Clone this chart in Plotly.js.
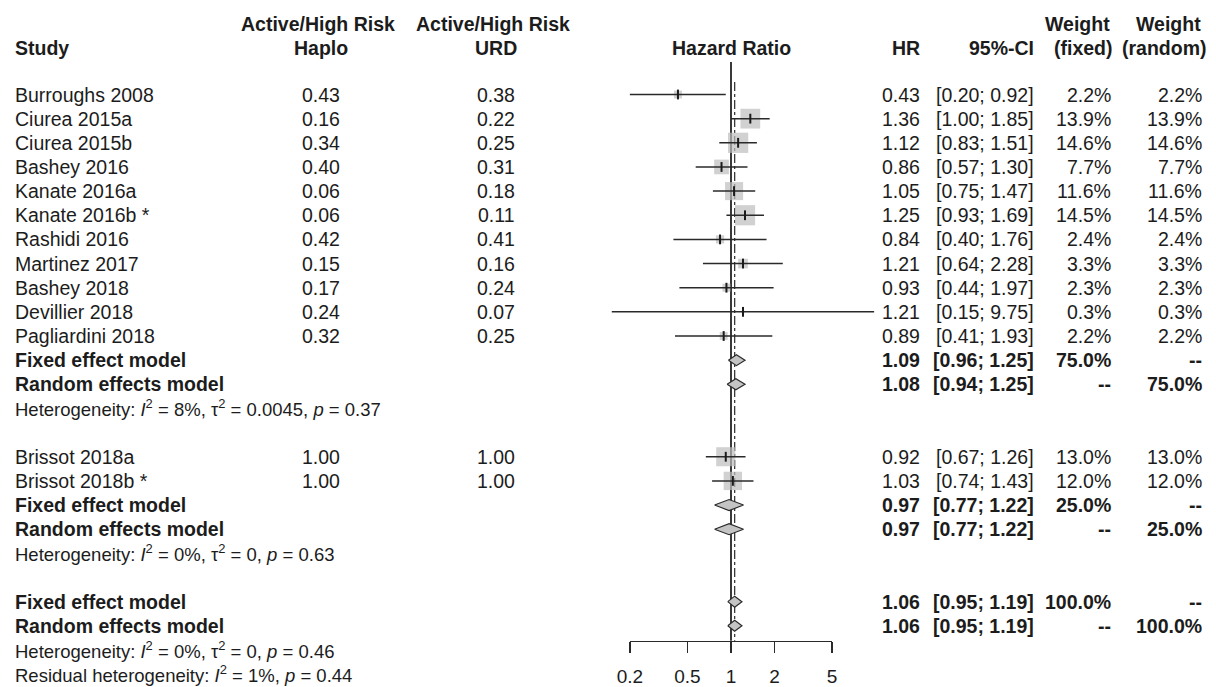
<!DOCTYPE html>
<html>
<head>
<meta charset="utf-8">
<script src="https://cdn.plot.ly/plotly-3.0.1.min.js"></script>
<style>
  html, body { margin: 0; padding: 0; background: #ffffff; }
  #chart { width: 1216px; height: 687px; }
</style>
</head>
<body>
<div id="chart"></div>
<script>
// ---- Study-level data ----
const studies = ['Burroughs 2008', 'Ciurea 2015a', 'Ciurea 2015b', 'Bashey 2016', 'Kanate 2016a',
  'Kanate 2016b *', 'Rashidi 2016', 'Martinez 2017', 'Bashey 2018', 'Devillier 2018',
  'Pagliardini 2018', 'Brissot 2018a', 'Brissot 2018b *'];
const haplo = ['0.43', '0.16', '0.34', '0.40', '0.06', '0.06', '0.42', '0.15', '0.17', '0.24', '0.32', '1.00', '1.00'];
const urd = ['0.38', '0.22', '0.25', '0.31', '0.18', '0.11', '0.41', '0.16', '0.24', '0.07', '0.25', '1.00', '1.00'];
const hr = [0.43, 1.36, 1.12, 0.86, 1.05, 1.25, 0.84, 1.21, 0.93, 1.21, 0.89, 0.92, 1.03];
const ciLow = [0.20, 1.00, 0.83, 0.57, 0.75, 0.93, 0.40, 0.64, 0.44, 0.15, 0.41, 0.67, 0.74];
const ciHigh = [0.92, 1.85, 1.51, 1.30, 1.47, 1.69, 1.76, 2.28, 1.97, 9.75, 1.93, 1.26, 1.43];
const weightFixed = [2.2, 13.9, 14.6, 7.7, 11.6, 14.5, 2.4, 3.3, 2.3, 0.3, 2.2, 13.0, 12.0];
const weightRandom = [2.2, 13.9, 14.6, 7.7, 11.6, 14.5, 2.4, 3.3, 2.3, 0.3, 2.2, 13.0, 12.0];
const studyRows = [0, 1, 2, 3, 4, 5, 6, 7, 8, 9, 10, 15, 16];

// ---- Pooled estimates (subgroups and overall) ----
const poolLabels = ['Fixed effect model', 'Random effects model', 'Fixed effect model',
  'Random effects model', 'Fixed effect model', 'Random effects model'];
const poolHr = [1.09, 1.08, 0.97, 0.97, 1.06, 1.06];
const poolLow = [0.96, 0.94, 0.77, 0.77, 0.95, 0.95];
const poolHigh = [1.25, 1.25, 1.22, 1.22, 1.19, 1.19];
const poolWeightFixed = ['75.0%', '--', '25.0%', '--', '100.0%', '--'];
const poolWeightRandom = ['--', '75.0%', '--', '25.0%', '--', '100.0%'];
const poolRows = [11, 12, 17, 18, 21, 22];

// ---- Heterogeneity statements ----
const hetTexts = [
  'Heterogeneity: <i>I</i><sup>2</sup> = 8%, \u03c4<sup>2</sup> = 0.0045, <i>p</i> = 0.37',
  'Heterogeneity: <i>I</i><sup>2</sup> = 0%, \u03c4<sup>2</sup> = 0, <i>p</i> = 0.63',
  'Heterogeneity: <i>I</i><sup>2</sup> = 0%, \u03c4<sup>2</sup> = 0, <i>p</i> = 0.46',
  'Residual heterogeneity: <i>I</i><sup>2</sup> = 1%, <i>p</i> = 0.44'
];
const hetRows = [13, 19, 23, 24];

// ---- Axis ticks ----
const tickVals = [0.2, 0.5, 1, 2, 5];
const tickLabels = ['0.2', '0.5', '1', '2', '5'];
const nullEffect = 1;
const overallFixed = poolHr[4];

// ---- Page geometry ----
const W = 1216, H = 687;
const rowTop = 94.5, rowStep = 24.15;       // pixel y of row 0 and spacing
const pxPerDecade = 144.7, pxAtOne = 731;   // horizontal log scale
const axisPx = 640.7;                       // y of the HR axis line
const yRange = [(H - rowTop) / rowStep, (0 - rowTop) / rowStep];
const xRange = [(0 - pxAtOne) / pxPerDecade, (W - pxAtOne) / pxPerDecade];
const pxRow = py => (py - rowTop) / rowStep;
const px = x => x / W;
const axLo = 0.2, axHi = 5;
const axDomain = [(pxAtOne + pxPerDecade * Math.log10(axLo)) / W, (pxAtOne + pxPerDecade * Math.log10(axHi)) / W];

const FONT = 'Liberation Sans, Arial, Helvetica, sans-serif';
const TXT = '#1c1c1c';
const FS = 19.5, FS_HET = 18.5;

// ---- Traces ----
const traces = [];

// reference line at HR = 1 and the pooled-effect line
traces.push({
  x: [nullEffect, nullEffect], y: [pxRow(62), pxRow(axisPx)],
  mode: 'lines', line: { color: '#3a3a3a', width: 2 }, hoverinfo: 'skip'
});
traces.push({
  x: [overallFixed, overallFixed], y: [pxRow(82), pxRow(axisPx)],
  mode: 'lines', line: { color: '#3a3a3a', width: 1.3, dash: 'dashdot' }, hoverinfo: 'skip'
});

// weight squares (area proportional to weight)
traces.push({
  x: hr, y: studyRows, mode: 'markers', hoverinfo: 'skip',
  marker: {
    symbol: 'square', color: '#bdbdbd',
    size: weightFixed.map(w => 5.3 * Math.sqrt(w)),
    line: { width: 0 }
  }
});

// confidence intervals
const ciX = [], ciY = [];
hr.forEach((v, i) => { ciX.push(ciLow[i], ciHigh[i], null); ciY.push(studyRows[i], studyRows[i], null); });
traces.push({
  x: ciX, y: ciY, mode: 'lines', line: { color: '#2a2a2a', width: 1.5 }, hoverinfo: 'skip'
});

// point-estimate ticks
traces.push({
  x: hr, y: studyRows, mode: 'markers', hoverinfo: 'skip',
  marker: { symbol: 'line-ns', size: 7, line: { color: '#1a1a1a', width: 2 } }
});

// pooled diamonds
const dH = 5.5 / rowStep;
const dX = [], dY = [];
poolHr.forEach((v, i) => {
  const r = poolRows[i];
  dX.push(poolLow[i], v, poolHigh[i], v, poolLow[i], null);
  dY.push(r, r - dH, r, r + dH, r, null);
});
traces.push({
  x: dX, y: dY, mode: 'lines', fill: 'toself', fillcolor: '#c4c4c4',
  line: { color: '#2a2a2a', width: 1.2 }, hoverinfo: 'skip'
});

// carrier trace for the HR scale axis
traces.push({
  x: [1], y: [-100], xaxis: 'x2', yaxis: 'y', mode: 'markers',
  marker: { opacity: 0 }, hoverinfo: 'skip'
});

// ---- Text columns ----
const ann = [];
function addText(text, xPx, row, anchor, opts = {}) {
  ann.push({
    text, x: px(xPx), xref: 'paper', y: row, yref: 'y',
    xanchor: anchor, yanchor: 'middle', showarrow: false,
    font: { family: FONT, size: opts.size || FS, color: TXT, weight: opts.bold ? 'bold' : 'normal' }
  });
}

// headers
const h1 = pxRow(24), h2 = pxRow(47.5);
addText('Study', 13, h2, 'left', { bold: true });
addText('Active/High Risk', 318, h1, 'center', { bold: true });
addText('Haplo', 321, h2, 'center', { bold: true });
addText('Active/High Risk', 493, h1, 'center', { bold: true });
addText('URD', 496, h2, 'center', { bold: true });
addText('Hazard Ratio', 731, h2, 'center', { bold: true });
addText('HR', 922, h2, 'right', { bold: true });
addText('95%-CI', 1036, h2, 'right', { bold: true });
addText('Weight', 1112, h1, 'right', { bold: true });
addText('(fixed)', 1115, h2, 'right', { bold: true });
addText('Weight', 1203, h1, 'right', { bold: true });
addText('(random)', 1209, h2, 'right', { bold: true });

// study rows
studies.forEach((s, i) => {
  const r = studyRows[i];
  addText(s, 13, r, 'left');
  addText(haplo[i], 321, r, 'center');
  addText(urd[i], 496, r, 'center');
  addText(hr[i].toFixed(2), 922, r, 'right');
  addText('[' + ciLow[i].toFixed(2) + '; ' + ciHigh[i].toFixed(2) + ']', 1036, r, 'right');
  addText(weightFixed[i].toFixed(1) + '%', 1113, r, 'right');
  addText(weightRandom[i].toFixed(1) + '%', 1204, r, 'right');
});

// pooled rows
poolLabels.forEach((s, i) => {
  const r = poolRows[i];
  addText(s, 13, r, 'left', { bold: true });
  addText(poolHr[i].toFixed(2), 922, r, 'right', { bold: true });
  addText('[' + poolLow[i].toFixed(2) + '; ' + poolHigh[i].toFixed(2) + ']', 1036, r, 'right', { bold: true });
  addText(poolWeightFixed[i], 1113, r, 'right', { bold: true });
  addText(poolWeightRandom[i], 1204, r, 'right', { bold: true });
});

// heterogeneity lines
hetTexts.forEach((t, i) => addText(t, 13, hetRows[i], 'left', { size: FS_HET }));

const layout = {
  width: W, height: H,
  margin: { l: 0, r: 0, t: 0, b: 0 },
  paper_bgcolor: '#ffffff', plot_bgcolor: 'rgba(0,0,0,0)',
  showlegend: false,
  xaxis: { type: 'log', range: xRange, visible: false, fixedrange: true },
  yaxis: { range: yRange, visible: false, fixedrange: true },
  xaxis2: {
    type: 'log', anchor: 'free', position: (H - axisPx) / H,
    domain: axDomain, range: [Math.log10(axLo), Math.log10(axHi)],
    tickvals: tickVals, ticktext: tickLabels,
    ticks: 'outside', ticklen: 11, tickwidth: 1.5, tickcolor: '#2a2a2a',
    showline: true, linecolor: '#2a2a2a', linewidth: 1.5,
    showgrid: false, zeroline: false, ticklabelstandoff: 7,
    tickfont: { family: FONT, size: 19, color: TXT }, fixedrange: true
  },
  annotations: ann
};

Plotly.newPlot('chart', traces, layout, { displayModeBar: false, staticPlot: true });
</script>
</body>
</html>
